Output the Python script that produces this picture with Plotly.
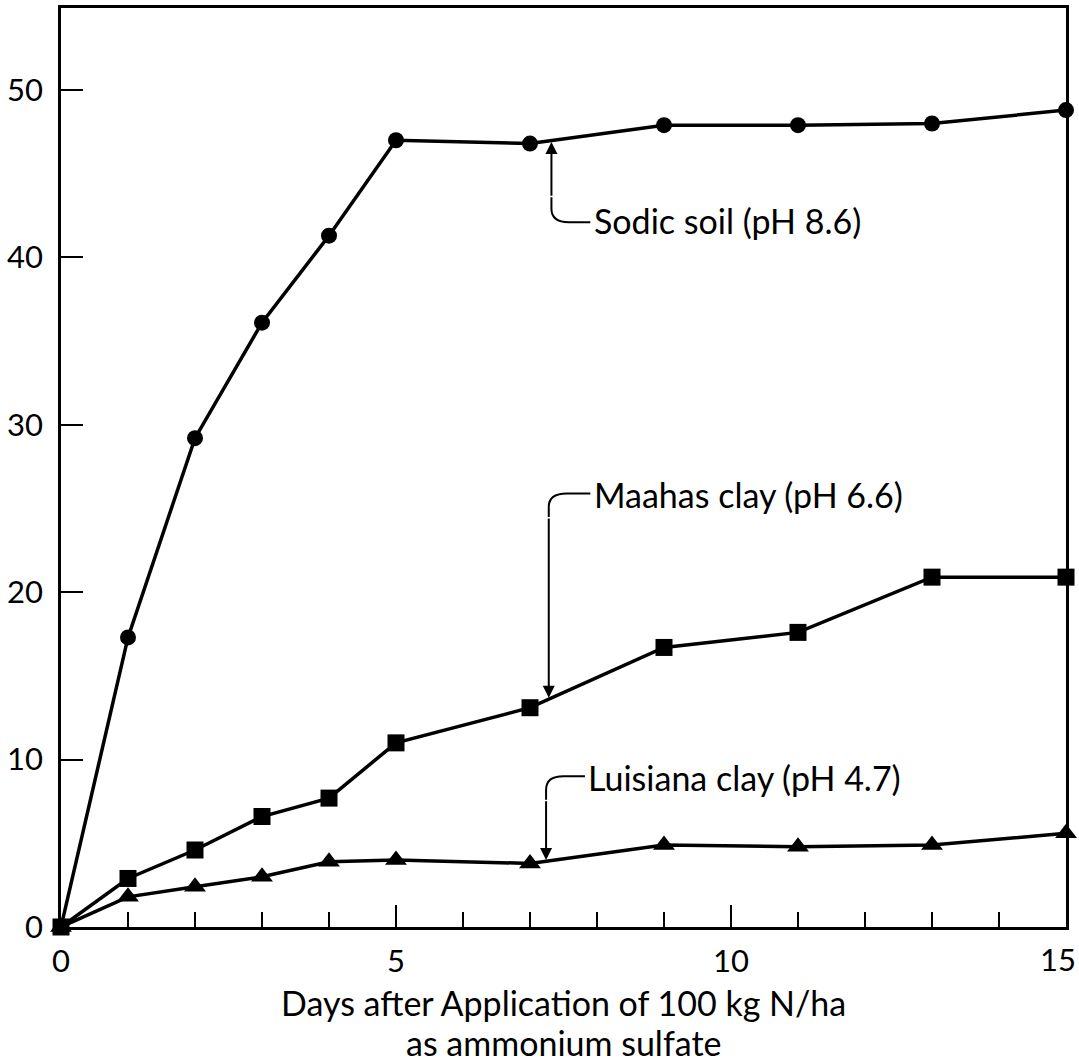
import plotly.graph_objects as go

days = [0, 1, 2, 3, 4, 5, 7, 9, 11, 13, 15]
sodic = [0, 17.3, 29.2, 36.1, 41.3, 47.0, 46.8, 47.9, 47.9, 48.0, 48.8]
maahas = [0, 2.9, 4.6, 6.6, 7.7, 11.0, 13.1, 16.7, 17.6, 20.9, 20.9]
luisiana = [0, 1.8, 2.4, 3.0, 3.9, 4.0, 3.8, 4.9, 4.8, 4.9, 5.6]

x_ticks = [0, 5, 10]
x_last_tick = 15
y_ticks = [0, 10, 20, 30, 40, 50]

labels = ["Sodic soil (pH 8.6)", "Maahas clay (pH 6.6)", "Luisiana clay (pH 4.7)"]
x_title = ["Days after Application of 100 kg N/ha", "as ammonium sulfate"]

FONT = "Lato"
fig = go.Figure()

def add_series(y, symbol, size):
    fig.add_trace(go.Scatter(
        x=days, y=y, mode="lines+markers",
        line=dict(color="black", width=3.5),
        marker=dict(symbol=symbol, size=size, color="black"),
        cliponaxis=False, showlegend=False))

add_series(sodic, "circle", 16)
add_series(maahas, "square", 17)
add_series(luisiana, "triangle-up", 19)

fig.update_xaxes(
    range=[0, 15], tickvals=x_ticks, ticktext=[str(v) for v in x_ticks],
    ticks="inside", ticklen=22, tickwidth=2.2, tickcolor="black",
    minor=dict(dtick=1, tick0=0, ticks="inside", ticklen=15, tickwidth=2.2, tickcolor="black"),
    showline=True, linecolor="black", linewidth=2.5, mirror=True,
    showgrid=False, zeroline=False, automargin=False,
    tickfont=dict(family=FONT, size=31, color="black"),
    ticklabelstandoff=5, ticklabeloverflow="allow",
)
fig.update_yaxes(
    range=[0, 54.9], tickvals=y_ticks, ticktext=[str(v) for v in y_ticks],
    ticks="inside", ticklen=22, tickwidth=2.2, tickcolor="black",
    showline=True, linecolor="black", linewidth=2.5, mirror=True,
    showgrid=False, zeroline=False, automargin=False,
    tickfont=dict(family=FONT, size=31, color="black"),
    ticklabelstandoff=9, ticklabeloverflow="allow",
)

# leader lines for the callouts
shapes = []
shapes.append(dict(type="path", xref="x", yref="y",
                   path="M 7.32,43.6 L 7.32,42.9 Q 7.32,42.1 7.58,42.1 L 7.9,42.1",
                   line=dict(color="black", width=2)))
shapes.append(dict(type="path", xref="x", yref="y",
                   path="M 7.9,25.9 L 7.55,25.9 Q 7.28,25.9 7.28,25.1 L 7.28,24.5",
                   line=dict(color="black", width=2)))
shapes.append(dict(type="path", xref="x", yref="y",
                   path="M 7.82,9.0 L 7.50,9.0 Q 7.24,9.0 7.24,8.2 L 7.24,7.6",
                   line=dict(color="black", width=2)))
fig.update_layout(shapes=shapes)

ann = []
ann.append(dict(x=7.32, y=46.9, ax=7.32, ay=43.6, xref="x", yref="y", axref="x", ayref="y",
                showarrow=True, arrowhead=2, arrowsize=1.2, arrowwidth=2, arrowcolor="black", text=""))
ann.append(dict(x=7.28, y=13.7, ax=7.28, ay=24.5, xref="x", yref="y", axref="x", ayref="y",
                showarrow=True, arrowhead=2, arrowsize=1.2, arrowwidth=2, arrowcolor="black", text=""))
ann.append(dict(x=7.24, y=4.0, ax=7.24, ay=7.6, xref="x", yref="y", axref="x", ayref="y",
                showarrow=True, arrowhead=2, arrowsize=1.2, arrowwidth=2, arrowcolor="black", text=""))
for txt, yy, xx in [(labels[0], 42.2, 7.92), (labels[1], 25.85, 7.92), (labels[2], 8.95, 7.84)]:
    ann.append(dict(x=xx, y=yy, xref="x", yref="y", text=txt, showarrow=False,
                    xanchor="left", yanchor="middle",
                    font=dict(family=FONT, size=34, color="black")))
# last x tick label, nudged left so it stays inside the page like the original
ann.append(dict(x=x_last_tick, y=0, xref="x", yref="paper", text=str(x_last_tick), showarrow=False,
                xanchor="center", yanchor="middle", xshift=-8, yshift=-32,
                font=dict(family=FONT, size=31, color="black")))
ann.append(dict(x=0.5, y=0, xref="paper", yref="paper", yshift=-75, yanchor="middle",
                text=x_title[0], showarrow=False,
                font=dict(family=FONT, size=34, color="black")))
ann.append(dict(x=0.5, y=0, xref="paper", yref="paper", yshift=-115, yanchor="middle",
                text=x_title[1], showarrow=False,
                font=dict(family=FONT, size=34, color="black")))
fig.update_layout(annotations=ann)

fig.update_layout(
    width=1079, height=1063,
    margin=dict(l=61, r=13, t=8, b=136),
    paper_bgcolor="white", plot_bgcolor="white",
)

fig.write_html("out.html")
